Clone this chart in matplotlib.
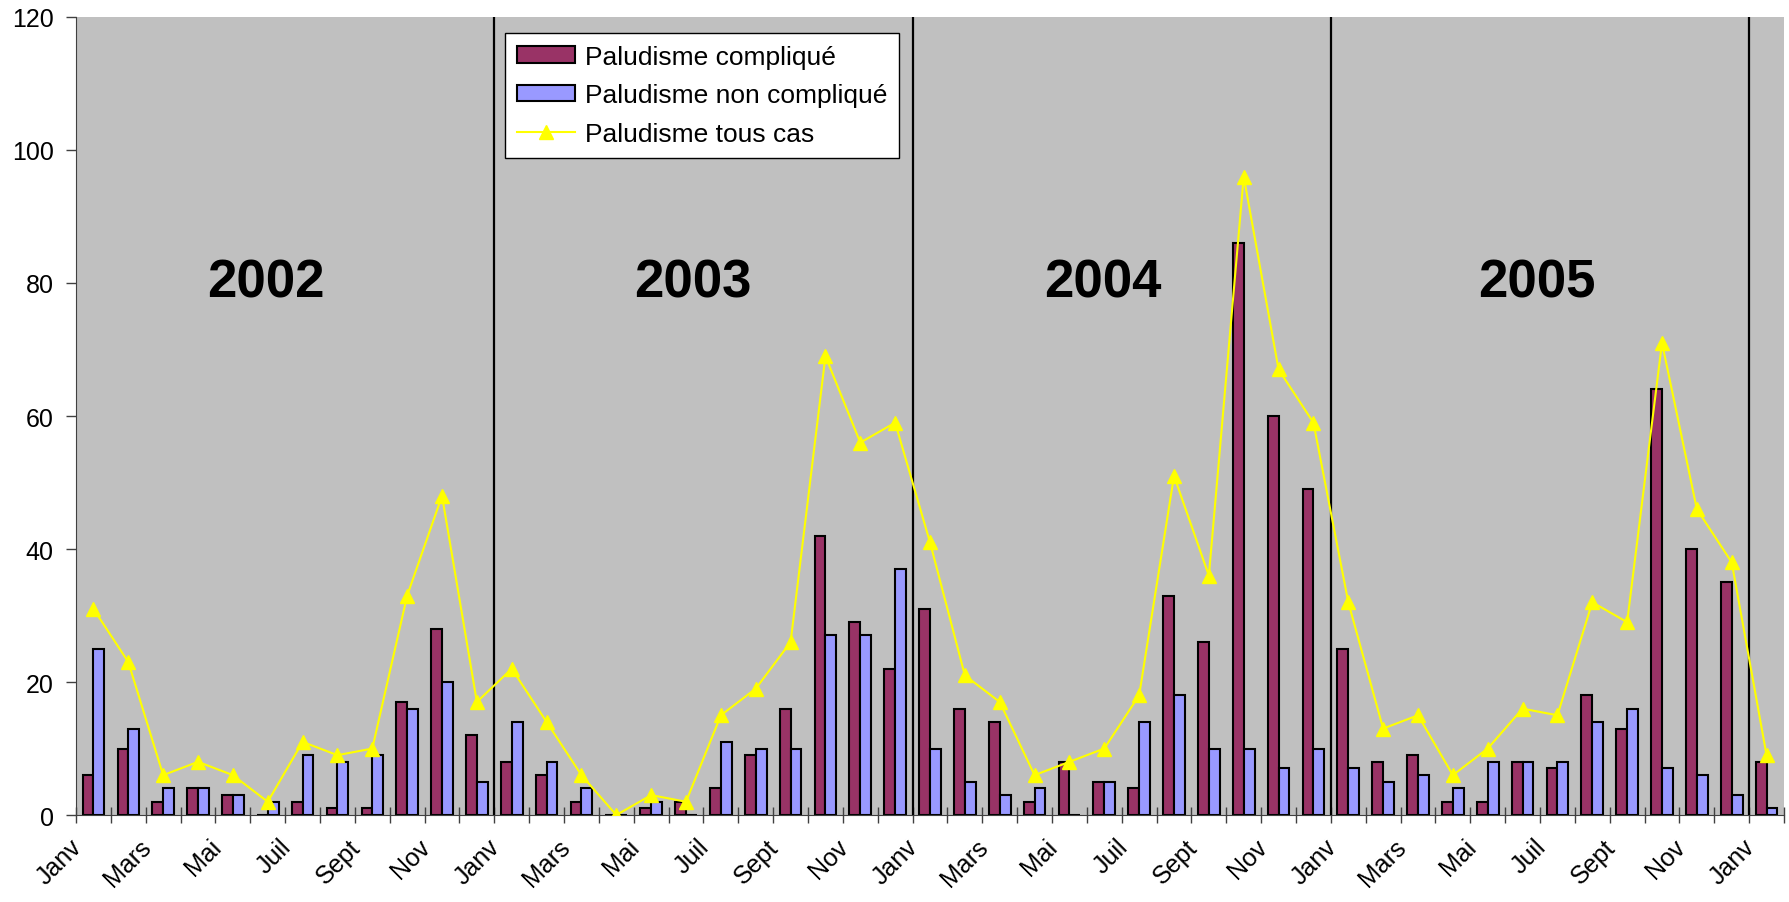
import matplotlib
matplotlib.use("Agg")
import matplotlib.pyplot as plt
import matplotlib.transforms as mtransforms
import numpy as np

plt.rcParams['font.family'] = ['Liberation Sans', 'DejaVu Sans']

# Mois de janv 2002 a janv 2006 (49 mois)
month_names = ["Janv", "Fév", "Mars", "Avr", "Mai", "Juin",
               "Juil", "Août", "Sept", "Oct", "Nov", "Déc"]
years = ["2002", "2003", "2004", "2005"]

complique = [6, 10, 2, 4, 3, 0, 2, 1, 1, 17, 28, 12,
             8, 6, 2, 0, 1, 2, 4, 9, 16, 42, 29, 22,
             31, 16, 14, 2, 8, 5, 4, 33, 26, 86, 60, 49,
             25, 8, 9, 2, 2, 8, 7, 18, 13, 64, 40, 35,
             8]
non_complique = [25, 13, 4, 4, 3, 2, 9, 8, 9, 16, 20, 5,
                 14, 8, 4, 0, 2, 0, 11, 10, 10, 27, 27, 37,
                 10, 5, 3, 4, 0, 5, 14, 18, 10, 10, 7, 10,
                 7, 5, 6, 4, 8, 8, 8, 14, 16, 7, 6, 3,
                 1]
tous_cas = [31, 23, 6, 8, 6, 2, 11, 9, 10, 33, 48, 17,
            22, 14, 6, 0, 3, 2, 15, 19, 26, 69, 56, 59,
            41, 21, 17, 6, 8, 10, 18, 51, 36, 96, 67, 59,
            32, 13, 15, 6, 10, 16, 15, 32, 29, 71, 46, 38,
            9]

n = len(complique)
labels = [month_names[i % 12] for i in range(n)]
x = np.arange(n) + 0.5

fig = plt.figure(figsize=(17.89, 9.03), dpi=100)
ax = fig.add_axes([0.0425, 0.0963, 0.9547, 0.8838])
ax.set_facecolor('#C0C0C0')

w = 0.31
b1 = ax.bar(x - w / 2, complique, width=w, color='#993366', edgecolor='black',
            linewidth=1.5, label='Paludisme compliqué', zorder=2)
b2 = ax.bar(x + w / 2, non_complique, width=w, color='#9999FF', edgecolor='black',
            linewidth=1.5, label='Paludisme non compliqué', zorder=2)
l1, = ax.plot(x, tous_cas, color='#FFFF00', linewidth=1.5, marker='^',
              markersize=10, label='Paludisme tous cas', zorder=4)

# separations entre annees
for k in range(1, 5):
    ax.axvline(12 * k, color='black', linewidth=1.6, zorder=3)

# etiquettes des annees (position en mois)
year_pos = [5.45, 17.7, 29.45, 41.9]
for xp, yr in zip(year_pos, years):
    ax.text(xp, 80, yr, ha='center', va='center',
            fontsize=38, fontweight='bold', zorder=5)

ax.set_xlim(0, n)
ax.set_ylim(0, 120)

ax.set_yticks(range(0, 121, 20))
ax.tick_params(axis='y', direction='out', length=7, width=1, labelsize=18, pad=9,
               color='#404040')

ax.set_xticks(np.arange(0, n + 1), minor=False)
ax.set_xticklabels([])
ax.tick_params(axis='x', which='major', direction='inout', length=12, width=1,
               color='#404040')
ax.set_xticks(x[::2], minor=True)
ax.set_xticklabels(labels[::2], minor=True, rotation=45, ha='right',
                   rotation_mode='anchor', fontsize=18)
ax.tick_params(axis='x', which='minor', length=0, pad=14)
offset = mtransforms.ScaledTranslation(-24 / 100, 0, fig.dpi_scale_trans)
for lab in ax.get_xticklabels(minor=True):
    lab.set_transform(lab.get_transform() + offset)

for s in ['top', 'right']:
    ax.spines[s].set_visible(False)
ax.spines['left'].set_color('#404040')
ax.spines['bottom'].set_color('#404040')

leg = ax.legend(handles=[b1, b2, l1], loc='upper left',
                bbox_to_anchor=(0.251, 0.980), borderaxespad=0, fontsize=19,
                frameon=True, fancybox=False, edgecolor='black', framealpha=1,
                borderpad=0.45, labelspacing=0.55, handlelength=2.2,
                handleheight=0.6, handletextpad=0.4)
leg.get_frame().set_linewidth(1)
leg.set_zorder(6)

fig.savefig('out.png', dpi=100)
